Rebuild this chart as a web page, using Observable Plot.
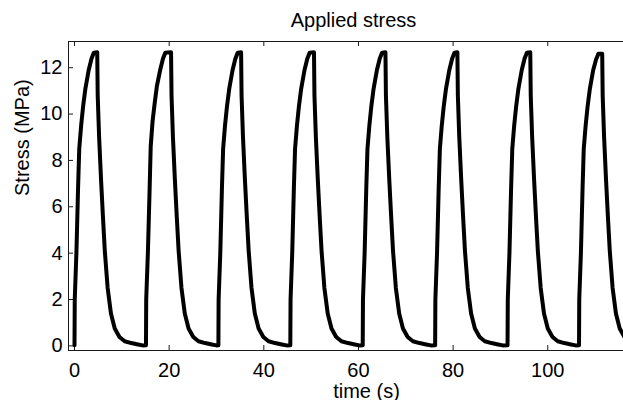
<!DOCTYPE html>
<html>
<head>
<meta charset="utf-8">
<script src="https://cdn.jsdelivr.net/npm/d3@7"></script>
<script src="https://cdn.jsdelivr.net/npm/@observablehq/plot@0.6"></script>
<style>
  html, body { margin: 0; padding: 0; background: #fff; }
  #chart svg { display: block; }
</style>
</head>
<body>
<div id="chart"></div>
<script>
// ---- data ----
const titleText = "Applied stress";
const xLabel = "time (s)";
const yLabel = "Stress (MPa)";
const xTicks = [0, 20, 40, 60, 80, 100];
const yTicks = [0, 2, 4, 6, 8, 10, 12];
const xLimits = [-1.27, 116];
const yLimits = [-0.2, 13.13];

const time = [
  0, 0.05, 0.4, 0.75, 1.0, 1.4, 1.8, 2.3, 3.0, 3.6, 4.1,
  4.8, 4.9, 5.2, 5.6, 6.0, 6.4, 7.0, 7.7, 8.5, 9.5, 10.6, 12.0, 13.4, 14.4,
  15.1, 15.15, 15.5, 15.85, 16.1, 16.5, 16.9, 17.4, 18.1, 18.7, 19.2,
  20.4, 20.5, 20.8, 21.2, 21.6, 22.0, 22.6, 23.3, 24.1, 25.1, 26.2, 27.6, 29.0, 30.0,
  30.4, 30.45, 30.8, 31.15, 31.4, 31.8, 32.2, 32.7, 33.4, 34.0, 34.5,
  35.2, 35.3, 35.6, 36.0, 36.4, 36.8, 37.4, 38.1, 38.9, 39.9, 41.0, 42.4, 43.8, 44.8,
  45.6, 45.65, 46.0, 46.35, 46.6, 47.0, 47.4, 47.9, 48.6, 49.2, 49.7,
  50.6, 50.7, 51.0, 51.4, 51.8, 52.2, 52.8, 53.5, 54.3, 55.3, 56.4, 57.8, 59.2, 60.2,
  60.9, 60.95, 61.3, 61.65, 61.9, 62.3, 62.7, 63.2, 63.9, 64.5, 65.0,
  65.7, 65.8, 66.1, 66.5, 66.9, 67.3, 67.9, 68.6, 69.4, 70.4, 71.5, 72.9, 74.3, 75.3,
  76.2, 76.25, 76.6, 76.95, 77.2, 77.6, 78.0, 78.5, 79.2, 79.8, 80.3,
  80.9, 81.0, 81.3, 81.7, 82.1, 82.5, 83.1, 83.8, 84.6, 85.6, 86.7, 88.1, 89.5, 90.5,
  91.5, 91.55, 91.9, 92.25, 92.5, 92.9, 93.3, 93.8, 94.5, 95.1, 95.6,
  96.3, 96.4, 96.7, 97.1, 97.5, 97.9, 98.5, 99.2, 100.0, 101.0, 102.1, 103.5, 104.9, 105.9,
  106.6, 106.65, 107.0, 107.35, 107.6, 108.0, 108.4, 108.9, 109.6, 110.2, 110.7,
  111.5, 111.6, 111.9, 112.3, 112.7, 113.1, 113.7, 114.4, 115.2, 116.2
];
const stress = [
  0.03, 2.0, 4.0, 6.8, 8.5, 9.5, 10.3, 11.1, 11.9, 12.4, 12.65,
  12.67, 10.8, 9.0, 7.2, 5.6, 4.1, 2.5, 1.4, 0.75, 0.38, 0.2, 0.12, 0.06, 0.02,
  0.03, 2.0, 4.0, 6.6, 8.6, 9.7, 10.4, 11.2, 11.9, 12.4, 12.65,
  12.67, 10.8, 9.0, 7.2, 5.6, 4.1, 2.5, 1.4, 0.75, 0.38, 0.2, 0.12, 0.06, 0.02,
  0.03, 2.0, 4.0, 6.8, 8.5, 9.5, 10.3, 11.1, 11.9, 12.4, 12.65,
  12.67, 10.8, 9.0, 7.2, 5.6, 4.1, 2.5, 1.4, 0.75, 0.38, 0.2, 0.12, 0.06, 0.02,
  0.03, 2.0, 4.0, 6.8, 8.5, 9.5, 10.3, 11.1, 11.9, 12.4, 12.65,
  12.67, 10.8, 9.0, 7.2, 5.6, 4.1, 2.5, 1.4, 0.75, 0.38, 0.2, 0.12, 0.06, 0.02,
  0.03, 2.0, 4.0, 6.8, 8.5, 9.5, 10.3, 11.1, 11.9, 12.4, 12.65,
  12.67, 10.8, 9.0, 7.2, 5.6, 4.1, 2.5, 1.4, 0.75, 0.38, 0.2, 0.12, 0.06, 0.02,
  0.03, 2.0, 4.0, 6.8, 8.5, 9.5, 10.3, 11.1, 11.9, 12.4, 12.65,
  12.67, 10.8, 9.0, 7.2, 5.6, 4.1, 2.5, 1.4, 0.75, 0.38, 0.2, 0.12, 0.06, 0.02,
  0.03, 2.0, 4.0, 6.8, 8.5, 9.5, 10.3, 11.1, 11.9, 12.4, 12.65,
  12.67, 10.8, 9.0, 7.2, 5.6, 4.1, 2.5, 1.4, 0.75, 0.38, 0.2, 0.12, 0.06, 0.02,
  0.03, 2.0, 4.0, 6.8, 8.5, 9.5, 10.3, 11.1, 11.9, 12.35, 12.6,
  12.6, 10.8, 9.0, 7.2, 5.6, 4.1, 2.5, 1.4, 0.75, 0.38
];

const data = time.map((t, i) => ({t, s: stress[i]}));
const axisColor = "#1a1a1a";

const chart = Plot.plot({
  width: 623,
  height: 400,
  marginTop: 41,
  marginBottom: 50,
  marginLeft: 68,
  marginRight: 0,
  x: {domain: xLimits},
  y: {domain: yLimits},
  style: {fontFamily: "'Liberation Sans', Arial, sans-serif", fontSize: "20px", background: "#fff", color: "#000"},
  marks: [
    Plot.axisX({ticks: xTicks, tickSize: 0, tickPadding: 12, label: null, fontSize: 20}),
    Plot.axisY({ticks: yTicks, tickSize: 0, tickPadding: 6, label: null, fontSize: 20}),
    // inward ticks (bottom, top, left)
    Plot.ruleX(xTicks, {x: d => d, y1: yLimits[0], y2: yLimits[0], insetTop: -5, stroke: axisColor}),
    Plot.ruleX(xTicks, {x: d => d, y1: yLimits[1], y2: yLimits[1], insetBottom: -5, stroke: axisColor}),
    Plot.ruleY(yTicks, {y: d => d, x1: xLimits[0], x2: xLimits[0], insetRight: -5, stroke: axisColor}),
    // the data
    Plot.line(data, {x: "t", y: "s", stroke: "#000", strokeWidth: 4, strokeLinejoin: "round", strokeLinecap: "round", clip: true}),
    // axes box (right side is beyond the picture)
    Plot.ruleY([yLimits[0]], {stroke: axisColor}),
    Plot.ruleY([yLimits[1]], {stroke: axisColor}),
    Plot.ruleX([xLimits[0]], {stroke: axisColor}),
    // texts
    Plot.text([titleText], {text: d => d, frameAnchor: "top", dx: 7.5, dy: -15, lineAnchor: "bottom", fontSize: 20, fill: "#000"}),
    Plot.text([xLabel], {text: d => d, frameAnchor: "bottom", dx: 20.5, dy: 47, lineAnchor: "bottom", fontSize: 20, fill: "#000"}),
    Plot.text([yLabel], {text: d => d, frameAnchor: "left", dx: -46, rotate: -90, lineAnchor: "middle", fontSize: 20, fill: "#000"})
  ]
});
document.getElementById("chart").appendChild(chart);
</script>
</body>
</html>
